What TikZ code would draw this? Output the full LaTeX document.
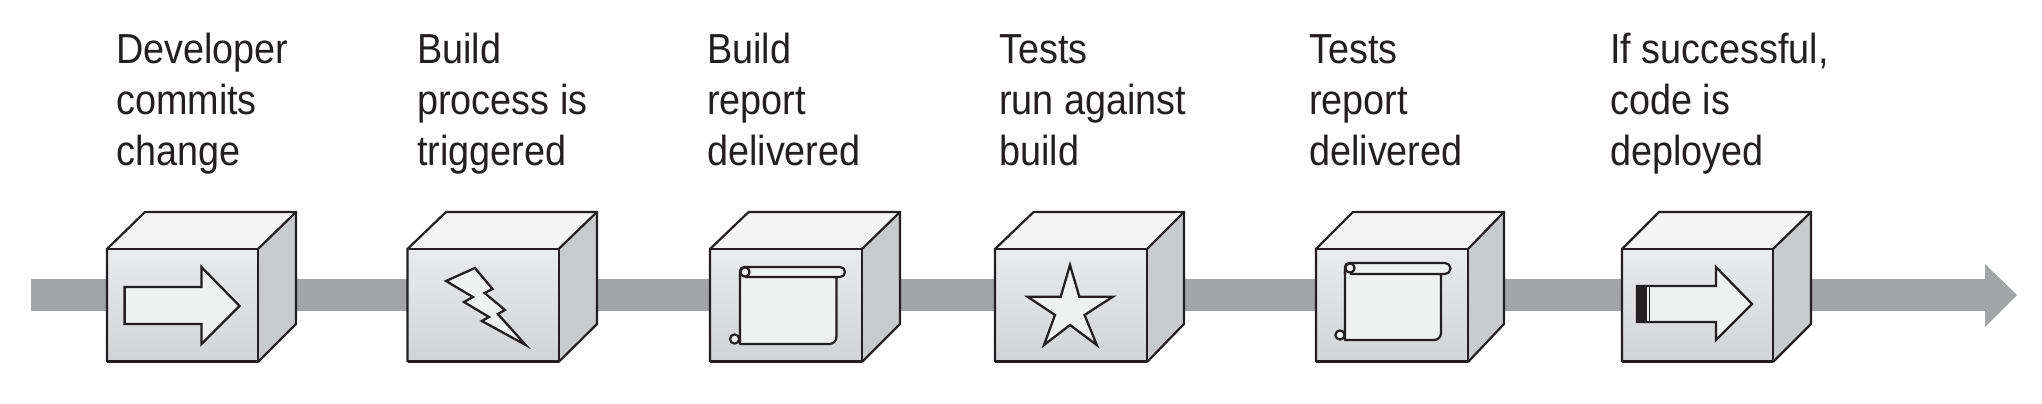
\documentclass[tikz,border=0pt]{standalone}
\usepackage{fontspec}
\setmainfont[FakeStretch=0.9]{Liberation Sans}
\definecolor{ink}{HTML}{231F20}
\definecolor{shaft}{HTML}{A2A4A6}
\definecolor{topface}{HTML}{F5F5F5}
\definecolor{sideface}{HTML}{C8CACC}
\definecolor{frontup}{HTML}{EAEBEC}
\definecolor{frontdown}{HTML}{D2D3D5}
\definecolor{iconfill}{HTML}{EFF0F0}
\tikzset{
  edgeline/.style={draw=ink,line width=2.2pt,line join=miter},
  iconline/.style={draw=ink,line width=2.3pt,line join=miter,fill=iconfill},
  scrollline/.style={draw=ink,line width=2.2pt,line join=round,fill=iconfill},
  caption/.style={anchor=base west,inner sep=0pt,align=left,text=ink,font=\fontsize{42}{51}\selectfont},
}
% #1 front left, #2 front right, #3 back left, #4 back right
\newcommand{\cubeshape}[4]{%
  \fill[topface] (#1,249) -- (#3,212) -- (#4,212) -- (#2,249) -- cycle;
  \fill[sideface] (#2,249) -- (#4,212) -- (#4,324) -- (#2,362) -- cycle;
  \shade[top color=frontup,middle color=frontup,bottom color=frontdown] (#1,249) rectangle (#2,362);
  \draw[edgeline] (#1,362) -- (#1,249) -- (#3,212) -- (#4,212) -- (#4,324) -- (#2,362);
  \draw[edgeline] (#1,249) -- (#2,249) -- (#2,362);
  \draw[edgeline] (#2,249) -- (#4,212);
  \draw[draw=ink,line width=3.5pt] (#1,361.5) -- (#2,361.5);
}
% #1 left, #2 roll right, #3 body right, #4 roll top, #5 roll bottom, #6 body bottom, #7 lower curl x
\newcommand{\scrollshape}[7]{%
  \draw[scrollline] (#1,#4+7) -- (#1,#6) -- (#3-7,#6) arc[start angle=90,end angle=0,radius=7] -- (#3,#5) -- cycle;
  \draw[scrollline] (#1+5,#4) -- (#2-5,#4) arc[start angle=-90,end angle=90,radius={(#5-#4)/2}] -- (#1+5,#5);
  \draw[scrollline] (#1,#5) -- (#1,#4+4) arc[start angle=180,end angle=270,radius=4] -- (#1+6,#4);
  \draw[scrollline] (#1+5,#4+5) circle[radius=4.6];
  \draw[scrollline] (#7,#6-5) circle[radius=4.6];
}
\begin{document}
\begin{tikzpicture}[x=1pt,y=-1pt]
\useasboundingbox (0,0) rectangle (2042,404);
\coordinate (start) at (31,295);
\coordinate (stop) at (1985,295);
\draw[shaft,line width=32pt] (start) -- (stop);
\fill[shaft] (1985,264) -- (2017,295) -- (1985,327) -- cycle;

\cubeshape{107}{258}{145}{296}
\cubeshape{407.5}{558.6}{446}{597}
\cubeshape{710}{862}{748.6}{900}
\cubeshape{995}{1147}{1033.6}{1184}
\cubeshape{1316}{1468}{1353}{1504}
\cubeshape{1622}{1773}{1659}{1811}

% arrow 1
\draw[iconline] (124.6,287) -- (201.4,287) -- (201.4,267) -- (239.6,306) -- (201.4,344) -- (201.4,324) -- (124.6,324) -- cycle;
% bolt
\draw[iconline] (446,281) -- (475,268) -- (492.5,289) -- (484.6,293) -- (505,310) -- (497.9,314) -- (525.7,345) -- (481.8,321) -- (489,317) -- (464,302) -- (472.9,297) -- cycle;
% scroll 1
\scrollshape{740}{845}{836.4}{267}{277}{344}{734.6}
% star
\draw[iconline] (1070,265) -- (1079.3,296.7) -- (1112.9,296.7) -- (1084.6,315) -- (1096.8,345) -- (1070,325) -- (1044,345) -- (1055,315) -- (1027.5,296.7) -- (1060.7,296.7) -- cycle;
% scroll 2
\scrollshape{1345}{1450}{1441}{263}{274}{340}{1340}
% arrow 2
\draw[iconline] (1637,286) -- (1716,286) -- (1716,267) -- (1752,304) -- (1716,340) -- (1716,322) -- (1637,322) -- cycle;
\fill[ink] (1637,286) rectangle (1647,322);
\draw[draw=ink,line width=1pt] (1649,286) -- (1649,322);

\node[caption] (t1) at (116,165) {Developer\\commits\\change};
\node[caption] (t2) at (417,165) {Build\\process is\\triggered};
\node[caption] (t3) at (707,165) {Build\\report\\delivered};
\node[caption] (t4) at (999,165) {Tests\\run against\\build};
\node[caption] (t5) at (1309,165) {Tests\\report\\delivered};
\node[caption] (t6) at (1610,165) {If successful,\\code is\\deployed};
\end{tikzpicture}
\end{document}
